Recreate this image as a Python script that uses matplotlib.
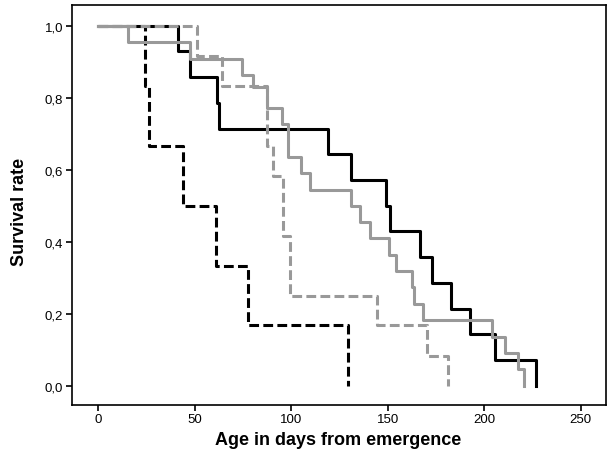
import matplotlib
matplotlib.use("Agg")
import matplotlib.pyplot as plt
from matplotlib.ticker import FuncFormatter

# Kaplan-Meier step data (days, survival after the drop)
black_solid_t = [0, 41.6, 47.6, 61.5, 62.8, 119.0, 130.8, 149.4, 151.2, 167.0, 172.8, 182.7, 192.7, 205.6, 226.7]
black_solid_s = [1.0, 0.929, 0.857, 0.786, 0.714, 0.643, 0.571, 0.500, 0.429, 0.357, 0.286, 0.214, 0.143, 0.071, 0.0]

black_dash_t = [0, 24.3, 26.4, 44.2, 61.0, 77.9, 129.7]
black_dash_s = [1.0, 0.833, 0.667, 0.500, 0.333, 0.167, 0.0]

gray_solid_t = [0, 15.7, 47.6, 74.4, 80.4, 87.5, 95.3, 98.5, 105.0, 110.0, 131.0, 135.7, 140.9,
                150.7, 154.1, 162.6, 163.9, 168.5, 203.9, 210.8, 217.7, 220.6]
gray_solid_s = [1.0, 0.955, 0.909, 0.864, 0.830, 0.773, 0.727, 0.636, 0.591, 0.545, 0.500, 0.455, 0.409,
                0.364, 0.318, 0.273, 0.227, 0.182, 0.136, 0.091, 0.045, 0.0]

gray_dash_t = [0, 51.1, 64.1, 87.4, 90.9, 95.7, 99.2, 144.6, 170.5, 181.4]
gray_dash_s = [1.0, 0.917, 0.833, 0.667, 0.583, 0.417, 0.250, 0.167, 0.083, 0.0]

x_ticks = [0, 50, 100, 150, 200, 250]
y_ticks = [0.0, 0.2, 0.4, 0.6, 0.8, 1.0]

plt.rcParams['font.family'] = ['Liberation Sans', 'DejaVu Sans']

fig = plt.figure(figsize=(6.08, 4.52), dpi=100)
ax = fig.add_axes([0.1176, 0.1018, 0.8788, 0.8849])

gray = "#999999"
lw = 2.2
ax.step(black_solid_t, black_solid_s, where="post", color="black", lw=lw, zorder=2)
ax.step(black_dash_t, black_dash_s, where="post", color="black", lw=lw, zorder=3,
        linestyle=(0, (3.2, 1.4)))
ax.step(gray_solid_t, gray_solid_s, where="post", color=gray, lw=lw, zorder=4)
ax.step(gray_dash_t, gray_dash_s, where="post", color=gray, lw=lw, zorder=5,
        linestyle=(0, (3.2, 1.4)))

ax.set_xlim(-13.7, 263)
ax.set_ylim(-0.054, 1.058)
ax.set_xticks(x_ticks)
ax.set_yticks(y_ticks)
ax.yaxis.set_major_formatter(FuncFormatter(lambda v, p: f"{v:.1f}".replace(".", ",")))

for sp in ax.spines.values():
    sp.set_linewidth(1.2)
ax.tick_params(direction="out", length=4, width=1.2, labelsize=9.5, pad=2)

ax.set_xlabel("Age in days from emergence", fontsize=13, fontweight="bold")
ax.xaxis.set_label_coords(0.499, -0.0875)
ax.xaxis.label.set_va("center")
ax.set_ylabel("Survival rate", fontsize=13, fontweight="bold",
              family=['Liberation Sans Narrow', 'Liberation Sans', 'DejaVu Sans'])
ax.yaxis.set_label_coords(-0.098, 0.485)
ax.yaxis.label.set_va("center")

fig.savefig("out.png", dpi=100)
